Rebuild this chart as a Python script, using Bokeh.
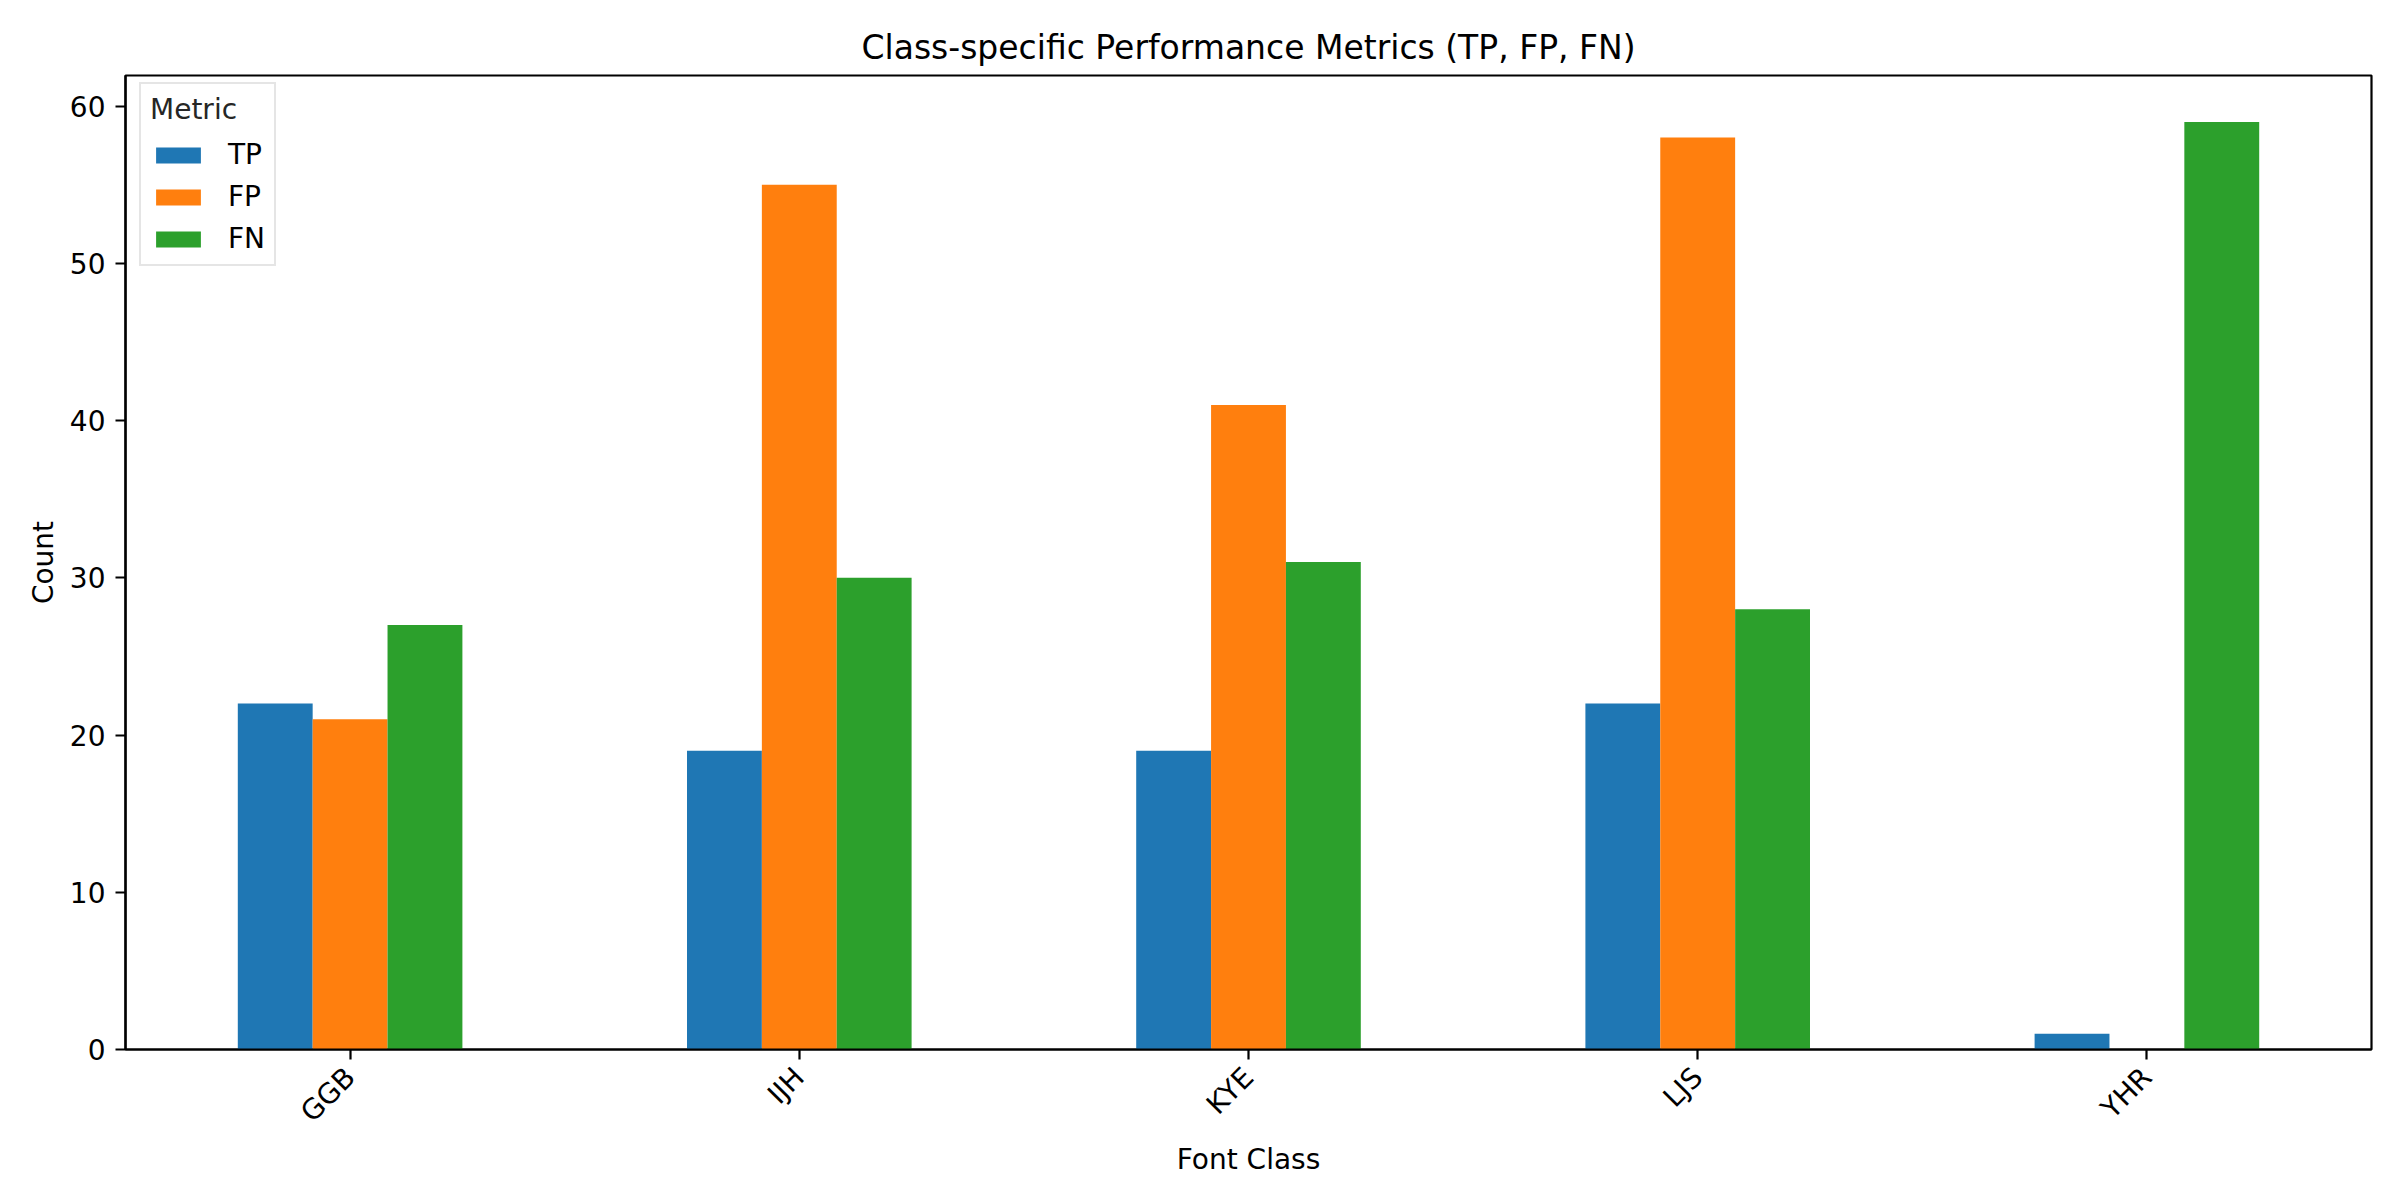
import math
from bokeh.plotting import figure
from bokeh.models import FactorRange, Range1d, Legend, LegendItem, FixedTicker, ColumnDataSource
from bokeh.transform import dodge
from bokeh.embed import file_html
from bokeh.resources import INLINE

# ---- data ----
classes = ["GGB", "IJH", "KYE", "LJS", "YHR"]
metrics = ["TP", "FP", "FN"]
tp = [22, 19, 19, 22, 1]
fp = [21, 55, 41, 58, 0]
fn = [27, 30, 31, 28, 59]
y_ticks = [0, 10, 20, 30, 40, 50, 60]
colors = ["#1f77b4", "#ff7f0e", "#2ca02c"]

FONT = "DejaVu Sans"
FS = "28px"

src = ColumnDataSource(dict(cls=classes, TP=tp, FP=fp, FN=fn))

p = figure(
    x_range=FactorRange(factors=classes, range_padding=0),
    y_range=Range1d(0, 61.95),
    frame_width=2246, frame_height=974,
    min_border_left=125, min_border_right=13, min_border_top=75, min_border_bottom=135,
    output_backend="svg", toolbar_location=None,
    title="Class-specific Performance Metrics (TP, FP, FN)",
)

bw = 1.0 / 6
offsets = [-bw, 0.0, bw]
renderers = []
for m, off, c in zip(metrics, offsets, colors):
    r = p.vbar(x=dodge("cls", off, range=p.x_range), top=m, width=bw, source=src,
               fill_color=c, line_color=None)
    renderers.append(r)

legend = Legend(items=[LegendItem(label=m, renderers=[r]) for m, r in zip(metrics, renderers)],
                location=(14, 783), title="Metric")
legend.title_text_font = FONT
legend.title_text_font_size = FS
legend.title_text_font_style = "normal"
legend.title_text_color = "#262626"
legend.label_text_font = FONT
legend.label_text_font_size = FS
legend.label_text_color = "black"
legend.glyph_width = 56
legend.glyph_height = 20
legend.label_standoff = 22
legend.label_height = 20
legend.spacing = 9
legend.padding = 9
legend.margin = 0
legend.title_standoff = 12
legend.border_line_color = "#cccccc"
legend.border_line_width = 2
legend.background_fill_alpha = 0.8
p.add_layout(legend)

p.title.text_font = FONT
p.title.text_font_size = "33px"
p.title.text_font_style = "normal"
p.title.text_color = "black"
p.title.align = "center"
p.title.standoff = 17

p.xgrid.visible = False
p.ygrid.visible = False
p.outline_line_color = "black"
p.outline_line_width = 2.2
p.outline_line_alpha = 1.0

for ax in (p.xaxis[0], p.yaxis[0]):
    ax.axis_line_color = "black"
    ax.axis_line_width = 2.2
    ax.major_tick_line_color = "black"
    ax.major_tick_line_width = 2.2
    ax.major_tick_in = 0
    ax.major_tick_out = 10
    ax.minor_tick_line_color = None
    ax.major_label_text_font = FONT
    ax.major_label_text_font_size = FS
    ax.major_label_text_color = "black"
    ax.axis_label_text_font = FONT
    ax.axis_label_text_font_size = FS
    ax.axis_label_text_font_style = "normal"
    ax.axis_label_text_color = "black"

p.xaxis.axis_label = "Font Class"
p.yaxis.axis_label = "Count"
p.xaxis.major_label_orientation = math.pi / 4
p.xaxis.major_label_standoff = 13
p.yaxis.major_label_standoff = 10
p.xaxis.axis_label_standoff = 0
p.yaxis.axis_label_standoff = 7
p.yaxis.ticker = FixedTicker(ticks=y_ticks)

open("out.html", "w").write(file_html(p, INLINE))
